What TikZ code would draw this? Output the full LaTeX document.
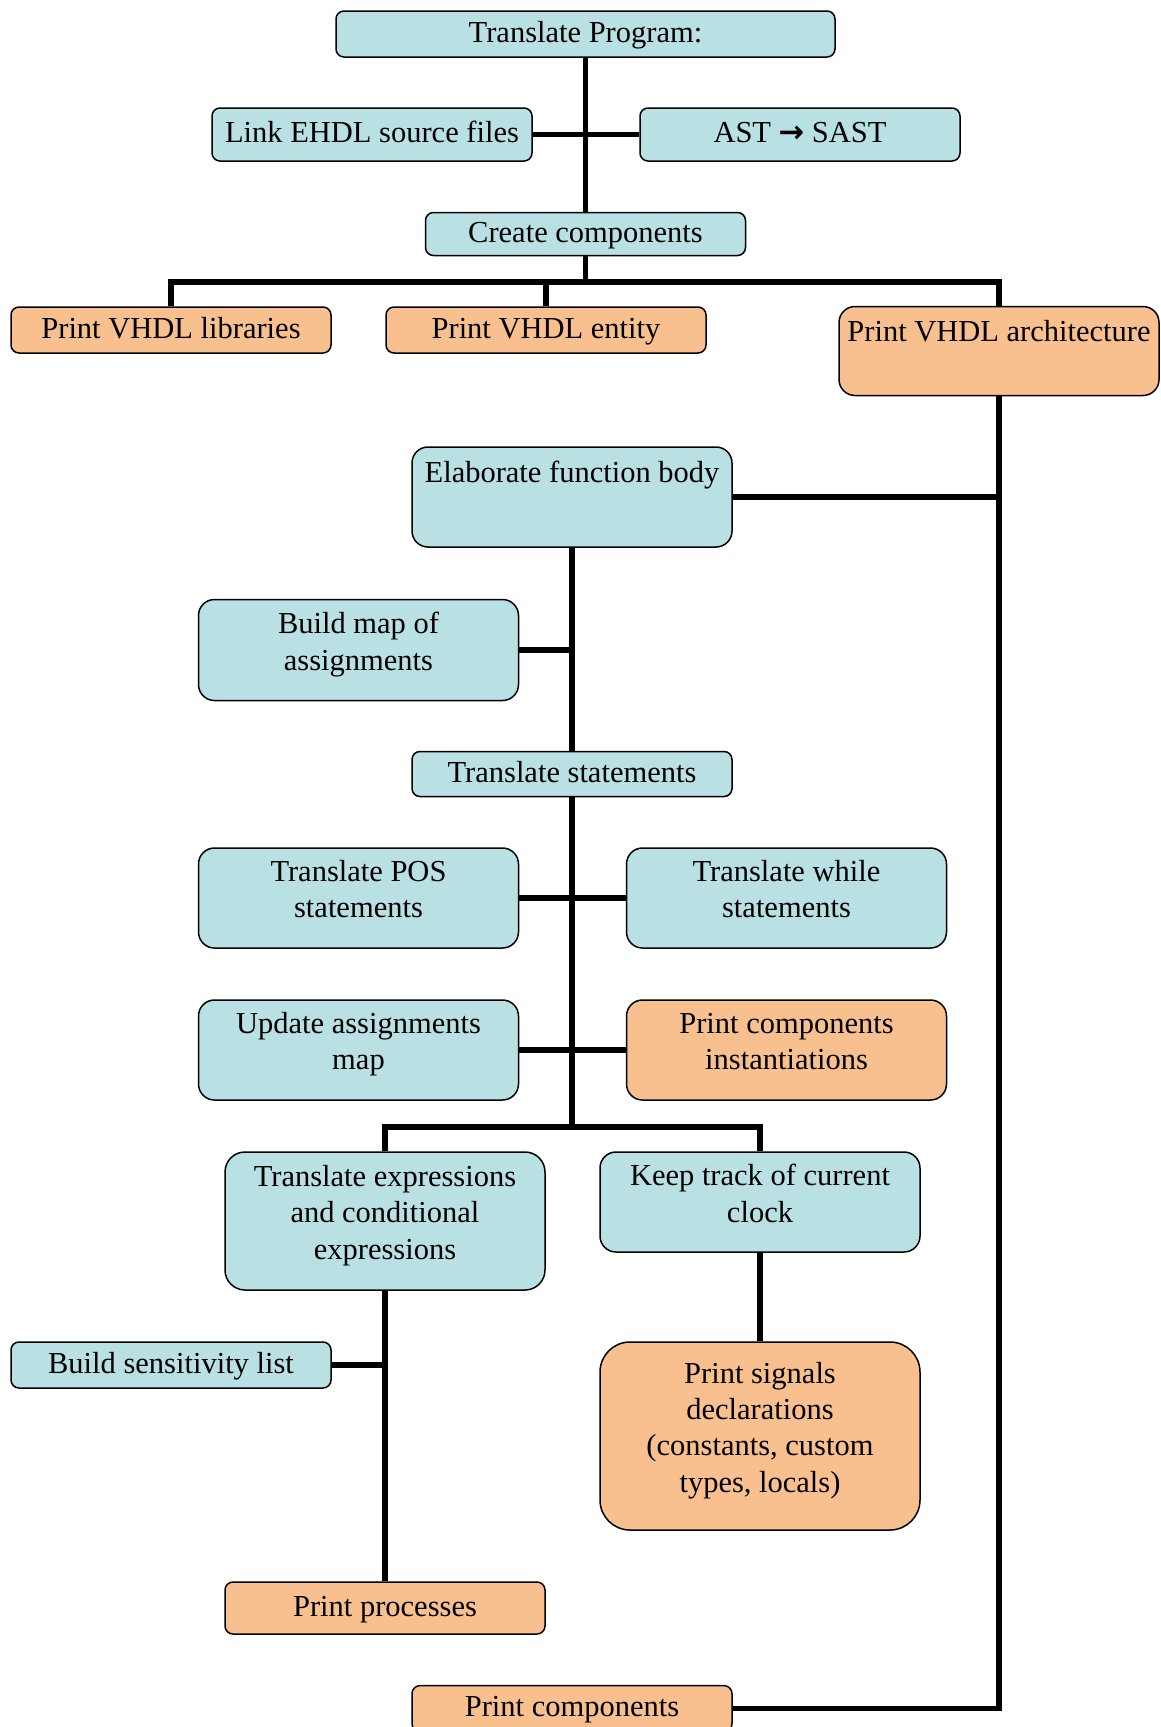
\documentclass[tikz,border=0pt]{standalone}
\usepackage{fontspec}
\setmainfont{Liberation Serif}
\newfontfamily\symfont{DejaVu Sans}
\usepackage{tikz}
\usetikzlibrary{positioning}
\definecolor{stepblue}{HTML}{B9E0E3}
\definecolor{printorange}{HTML}{F8C08F}
\tikzstyle{transblock} = [rectangle, rounded corners=8pt, minimum width=320pt, minimum height=46pt, inner sep=0pt, align=center, draw=black, line width=1.5pt, fill=stepblue, font=\fontsize{30.5}{36.5}\selectfont, execute at begin node={\rule{0pt}{23pt}}, execute at end node={\rule[-7pt]{0pt}{0pt}}]
\tikzstyle{printblock} = [transblock, fill=printorange]
\tikzstyle{tallblock} = [rounded corners=16pt, minimum height=100pt]
\tikzstyle{multiblock} = [execute at end node={\rule[-17.7pt]{0pt}{0pt}}]
\tikzstyle{wire} = [line width=5.5pt]

\begin{document}
\begin{tikzpicture}[x=1pt, y=-1pt]

	\useasboundingbox (0,0) rectangle (1160,1727);

	\node (transProg) [transblock, minimum width=499pt] at (585.5,34) {Translate Program:};

	\node (linkSrc) [transblock, minimum height=53pt] at (372,134.5) {Link EHDL source files};

	\node (astSast) [transblock, minimum height=53pt] at (800,134.5) {AST {\symfont\bfseries →} SAST};

	\node (createComp) [transblock, minimum height=43pt] at (585.5,234) {Create components};

	\node (printLibs) [printblock] at (171,330) {Print VHDL libraries};

	\node (printEntity) [printblock] at (546,330) {Print VHDL entity};

	\node (printArch) [printblock, rounded corners=16pt, minimum height=89pt, text height=34.6pt, text depth=54.4pt] at (999,351) {Print VHDL architecture};

	\node (elabBody) [transblock, tallblock, text height=35.6pt, text depth=64.4pt] at (572,497) {Elaborate function body};

	\node (buildMap) [transblock, tallblock, multiblock, minimum height=101pt] at (358.5,650) {Build map of\\assignments};

	\node (transStmts) [transblock, minimum height=45pt] at (572,774) {Translate statements};

	\node (transPos) [transblock, tallblock, multiblock] at (358.5,898) {Translate POS\\statements};

	\node (transWhile) [transblock, tallblock, multiblock] at (786.5,898) {Translate while\\statements};

	\node (updateMap) [transblock, tallblock, multiblock] at (358.5,1050) {Update assignments\\map};

	\node (printInst) [printblock, tallblock, multiblock] at (786.5,1050) {Print components\\instantiations};

	\node (transExpr) [transblock, multiblock, rounded corners=20pt, minimum height=138pt] at (385,1221) {Translate expressions\\and conditional\\expressions};

	\node (keepClock) [transblock, tallblock, multiblock] at (760,1202) {Keep track of current\\clock};

	\node (buildSens) [transblock] at (171,1365) {Build sensitivity list};

	\node (printSignals) [printblock, multiblock, rounded corners=30pt, minimum height=188pt] at (760,1436) {Print signals\\declarations\\(constants, custom\\types, locals)};

	\node (printProc) [printblock, minimum height=52pt] at (385,1608) {Print processes};

	\node (printComp) [printblock] at (572,1708.6) {Print components};

	\coordinate (compBus) at (585.5,282);
	\coordinate (stmtBus) at (572,1127);

	\draw [wire] (transProg) -- (createComp);
	\draw [wire] (linkSrc) -- (astSast);

	\draw [wire] (createComp) -- (compBus);
	\draw [wire] (printLibs.north) |- (compBus) -| (printArch.north);
	\draw [wire] (printEntity.north) -- (printEntity.north |- compBus);

	\draw [wire] (printArch.south) |- (printComp.east);
	\draw [wire] (elabBody.east) -- (elabBody.east -| printArch.south);

	\draw [wire] (elabBody) -- (transStmts);
	\draw [wire] (buildMap.east) -- (buildMap.east -| elabBody.south);

	\draw [wire] (transStmts.south) -- (stmtBus);
	\draw [wire] (transPos) -- (transWhile);
	\draw [wire] (updateMap) -- (printInst);
	\draw [wire] (transExpr.north) |- (stmtBus) -| (keepClock.north);

	\draw [wire] (transExpr) -- (printProc);
	\draw [wire] (buildSens.east) -- (buildSens.east -| transExpr.south);
	\draw [wire] (keepClock) -- (printSignals);

\end{tikzpicture}
\end{document}
